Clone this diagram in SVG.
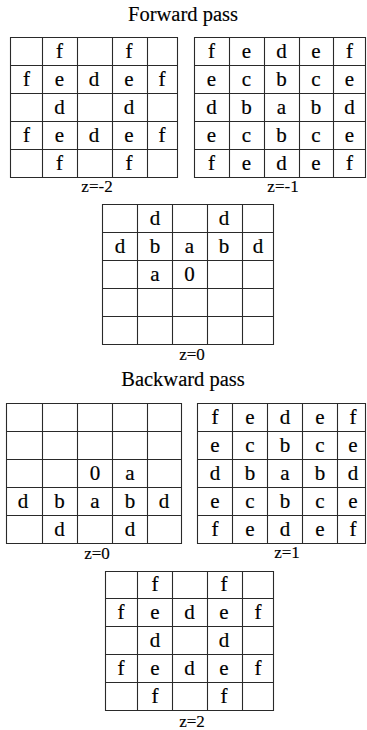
<svg xmlns="http://www.w3.org/2000/svg" width="367" height="730" viewBox="0 0 367 730">
<style>
.bg{fill:#ffffff}
.grid{fill:none;stroke:#2a2a2a;stroke-width:1.1}
.t{font-family:"Liberation Serif","Times New Roman",serif;font-size:21px;fill:#000000;stroke:#000000;stroke-width:0.2;text-anchor:middle}
.lbl{font-family:"Liberation Serif","Times New Roman",serif;font-size:17px;fill:#000000;stroke:#000000;stroke-width:0.15;text-anchor:middle}
.title{font-family:"Liberation Serif","Times New Roman",serif;font-size:20.5px;fill:#000000;stroke:#000000;stroke-width:0.15;text-anchor:middle}
</style>
<rect class="bg" x="0" y="0" width="367" height="730"/>
<text class="title" x="183" y="21">Forward pass</text>
<text class="title" x="183" y="386">Backward pass</text>

<g id="grid-fwd-z-2">
<path class="grid" d="M10.5,37.5H177.5V177.5H10.5Z M42.5,37.5V177.5 M77.5,37.5V177.5 M112.5,37.5V177.5 M147.5,37.5V177.5 M10.5,65.5H177.5 M10.5,93.5H177.5 M10.5,121.5H177.5 M10.5,149.5H177.5"/>
<text class="t" x="59.5" y="58">f</text><text class="t" x="129" y="58">f</text>
<text class="t" x="26.5" y="86">f</text><text class="t" x="59.5" y="86">e</text><text class="t" x="94" y="86">d</text><text class="t" x="129" y="86">e</text><text class="t" x="162" y="86">f</text>
<text class="t" x="59.5" y="114">d</text><text class="t" x="129" y="114">d</text>
<text class="t" x="26.5" y="142">f</text><text class="t" x="59.5" y="142">e</text><text class="t" x="94" y="142">d</text><text class="t" x="129" y="142">e</text><text class="t" x="162" y="142">f</text>
<text class="t" x="59.5" y="170">f</text><text class="t" x="129" y="170">f</text>
<text class="lbl" x="97" y="192">z=-2</text>
</g>

<g id="grid-fwd-z-1">
<path class="grid" d="M194.5,37.5H365.5V177.5H194.5Z M229.5,37.5V177.5 M264.5,37.5V177.5 M299.5,37.5V177.5 M333.5,37.5V177.5 M194.5,65.5H365.5 M194.5,93.5H365.5 M194.5,121.5H365.5 M194.5,149.5H365.5"/>
<text class="t" x="211.5" y="58">f</text><text class="t" x="246.5" y="58">e</text><text class="t" x="281.5" y="58">d</text><text class="t" x="316" y="58">e</text><text class="t" x="349.5" y="58">f</text>
<text class="t" x="211.5" y="86">e</text><text class="t" x="246.5" y="86">c</text><text class="t" x="281.5" y="86">b</text><text class="t" x="316" y="86">c</text><text class="t" x="349.5" y="86">e</text>
<text class="t" x="211.5" y="114">d</text><text class="t" x="246.5" y="114">b</text><text class="t" x="281.5" y="114">a</text><text class="t" x="316" y="114">b</text><text class="t" x="349.5" y="114">d</text>
<text class="t" x="211.5" y="142">e</text><text class="t" x="246.5" y="142">c</text><text class="t" x="281.5" y="142">b</text><text class="t" x="316" y="142">c</text><text class="t" x="349.5" y="142">e</text>
<text class="t" x="211.5" y="170">f</text><text class="t" x="246.5" y="170">e</text><text class="t" x="281.5" y="170">d</text><text class="t" x="316" y="170">e</text><text class="t" x="349.5" y="170">f</text>
<text class="lbl" x="283" y="192">z=-1</text>
</g>

<g id="grid-fwd-z0">
<path class="grid" d="M102.5,204.5H273.5V344.5H102.5Z M137.5,204.5V344.5 M172.5,204.5V344.5 M207.5,204.5V344.5 M242.5,204.5V344.5 M102.5,232.5H273.5 M102.5,260.5H273.5 M102.5,288.5H273.5 M102.5,316.5H273.5"/>
<text class="t" x="155" y="225">d</text><text class="t" x="224" y="225">d</text>
<text class="t" x="120" y="253">d</text><text class="t" x="155" y="253">b</text><text class="t" x="189.5" y="253">a</text><text class="t" x="224" y="253">b</text><text class="t" x="258" y="253">d</text>
<text class="t" x="155" y="281">a</text><text class="t" x="189.5" y="281">0</text>
<text class="lbl" x="192" y="360">z=0</text>
</g>

<g id="grid-bwd-z0">
<path class="grid" d="M6.5,403.5H181.5V543.5H6.5Z M42.5,403.5V543.5 M77.5,403.5V543.5 M112.5,403.5V543.5 M147.5,403.5V543.5 M6.5,431.5H181.5 M6.5,459.5H181.5 M6.5,487.5H181.5 M6.5,515.5H181.5"/>
<text class="t" x="95" y="480">0</text><text class="t" x="130" y="480">a</text>
<text class="t" x="23" y="508">d</text><text class="t" x="59.5" y="508">b</text><text class="t" x="95" y="508">a</text><text class="t" x="130" y="508">b</text><text class="t" x="164" y="508">d</text>
<text class="t" x="59.5" y="536">d</text><text class="t" x="130" y="536">d</text>
<text class="lbl" x="97" y="559">z=0</text>
</g>

<g id="grid-bwd-z1">
<path class="grid" d="M197.5,403.5H365.5V543.5H197.5Z M232.5,403.5V543.5 M267.5,403.5V543.5 M302.5,403.5V543.5 M337.5,403.5V543.5 M197.5,431.5H365.5 M197.5,459.5H365.5 M197.5,487.5H365.5 M197.5,515.5H365.5"/>
<text class="t" x="215" y="424">f</text><text class="t" x="250" y="424">e</text><text class="t" x="285" y="424">d</text><text class="t" x="320" y="424">e</text><text class="t" x="353" y="424">f</text>
<text class="t" x="215" y="452">e</text><text class="t" x="250" y="452">c</text><text class="t" x="285" y="452">b</text><text class="t" x="320" y="452">c</text><text class="t" x="353" y="452">e</text>
<text class="t" x="215" y="480">d</text><text class="t" x="250" y="480">b</text><text class="t" x="285" y="480">a</text><text class="t" x="320" y="480">b</text><text class="t" x="353" y="480">d</text>
<text class="t" x="215" y="508">e</text><text class="t" x="250" y="508">c</text><text class="t" x="285" y="508">b</text><text class="t" x="320" y="508">c</text><text class="t" x="353" y="508">e</text>
<text class="t" x="215" y="536">f</text><text class="t" x="250" y="536">e</text><text class="t" x="285" y="536">d</text><text class="t" x="320" y="536">e</text><text class="t" x="353" y="536">f</text>
<text class="lbl" x="287" y="558">z=1</text>
</g>

<g id="grid-bwd-z2">
<path class="grid" d="M105.5,571.5H273.5V710.5H105.5Z M137.5,571.5V710.5 M172.5,571.5V710.5 M207.5,571.5V710.5 M242.5,571.5V710.5 M105.5,598.5H273.5 M105.5,626.5H273.5 M105.5,654.5H273.5 M105.5,682.5H273.5"/>
<text class="t" x="155" y="591">f</text><text class="t" x="224" y="591">f</text>
<text class="t" x="121" y="619">f</text><text class="t" x="155" y="619">e</text><text class="t" x="189.5" y="619">d</text><text class="t" x="224" y="619">e</text><text class="t" x="258" y="619">f</text>
<text class="t" x="155" y="647">d</text><text class="t" x="224" y="647">d</text>
<text class="t" x="121" y="675">f</text><text class="t" x="155" y="675">e</text><text class="t" x="189.5" y="675">d</text><text class="t" x="224" y="675">e</text><text class="t" x="258" y="675">f</text>
<text class="t" x="155" y="703">f</text><text class="t" x="224" y="703">f</text>
<text class="lbl" x="192" y="727">z=2</text>
</g>
</svg>
